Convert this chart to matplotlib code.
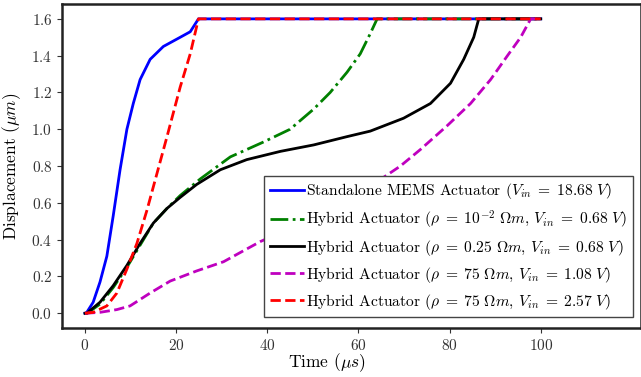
import numpy as np
import matplotlib
matplotlib.use('Agg')
import matplotlib.pyplot as plt

plt.rcParams['font.family'] = 'serif'
plt.rcParams['font.serif'] = ['cmr10', 'DejaVu Serif']
plt.rcParams['mathtext.fontset'] = 'cm'
plt.rcParams['axes.formatter.use_mathtext'] = True
plt.rcParams['axes.unicode_minus'] = False

# ------------------------------------------------------------------------
# data (time in us, displacement in um)
t_mems = [0, 0.4, 1.8, 3.3, 4.8, 6.2, 7.7, 9.2, 10.6, 12.1, 14.3, 17.2, 20.9, 23.1, 24.9, 100]
d_mems = [0, 0.005, 0.06, 0.17, 0.31, 0.53, 0.78, 1.0, 1.14, 1.27, 1.38, 1.45, 1.50, 1.53, 1.6, 1.6]

t_rho1 = [0, 0.5, 3.3, 6.2, 9.2, 12.1, 15, 18, 20.9, 25.3, 31.9, 39.1, 45, 50.2, 53.8,
          57.5, 60.4, 62.6, 64.1, 100]
d_rho1 = [0, 0.0, 0.05, 0.14, 0.25, 0.37, 0.49, 0.57, 0.64, 0.73, 0.85, 0.93, 1.0, 1.11, 1.2,
          1.31, 1.41, 1.52, 1.6, 1.6]

t_rho2 = [0, 0.4, 3.3, 6.2, 9.2, 12.1, 15, 18, 20.9, 24.5, 29.7, 35.5, 42.9, 50.2, 57.5,
          62.6, 69.9, 75.8, 80.2, 83.1, 85.3, 86.4, 100]
d_rho2 = [0, 0.0, 0.06, 0.15, 0.26, 0.38, 0.49, 0.57, 0.63, 0.70, 0.78, 0.835, 0.88, 0.915, 0.96,
          0.99, 1.06, 1.14, 1.25, 1.38, 1.5, 1.6, 1.6]

t_rho3 = [0, 3.3, 7, 9.9, 14.3, 18.7, 24.5, 30.4, 34.8, 38.5, 45, 50, 55, 60, 65,
          69.2, 73.6, 79.5, 84.6, 89, 92.7, 95.6, 97.8, 100]
d_rho3 = [0, 0.005, 0.02, 0.04, 0.11, 0.175, 0.23, 0.28, 0.34, 0.39, 0.46, 0.52, 0.59, 0.66, 0.73,
          0.80, 0.89, 1.02, 1.14, 1.27, 1.40, 1.50, 1.6, 1.6]

t_rho4 = [0, 1.8, 4.8, 7, 9.2, 11.4, 13.6, 15.8, 18, 20.9, 23.1, 24.9, 100]
d_rho4 = [0, 0.005, 0.04, 0.11, 0.24, 0.38, 0.56, 0.76, 0.96, 1.23, 1.41, 1.6, 1.6]

labels = [r'Standalone MEMS Actuator ($V_{in}\;=\;18.68\ V$)',
          r'Hybrid Actuator ($\rho\;=\;10^{-2}\ \Omega m$, $V_{in}\;=\;0.68\ V$)',
          r'Hybrid Actuator ($\rho\;=\;0.25\ \Omega m$, $V_{in}\;=\;0.68\ V$)',
          r'Hybrid Actuator ($\rho\;=\;75\ \Omega m$, $V_{in}\;=\;1.08\ V$)',
          r'Hybrid Actuator ($\rho\;=\;75\ \Omega m$, $V_{in}\;=\;2.57\ V$)']

# ------------------------------------------------------------------------
fig = plt.figure(figsize=(6.41, 3.77), dpi=100)
ax = fig.add_axes([0.097, 0.13, 0.903, 0.859])

ax.plot(t_mems, d_mems, '-', color='b', lw=2, label=labels[0])
ax.plot(t_rho1, d_rho1, '-.', color='g', lw=2, label=labels[1])
ax.plot(t_rho2, d_rho2, '-', color='k', lw=2, label=labels[2])
ax.plot(t_rho3, d_rho3, '--', color='m', lw=2, label=labels[3])
ax.plot(t_rho4, d_rho4, '--', color='r', lw=2, label=labels[4])

ax.set_xlim(-5, 122)
ax.set_ylim(-0.08, 1.68)
ax.set_xticks([0, 20, 40, 60, 80, 100])
ax.set_yticks(np.arange(0, 1.61, 0.2))
ax.tick_params(labelsize=11, colors='#333333')
for s in ax.spines.values():
    s.set_linewidth(1.8)
    s.set_color('#222222')

ax.set_xlabel(r'Time ($\mu s$)', fontsize=12.5)
ax.set_ylabel(r'Displacement ($\mu m$)', fontsize=12.5)
ax.xaxis.set_label_coords(0.458, -0.072)
ax.yaxis.set_label_coords(-0.067, 0.5)

leg = ax.legend(loc='lower right', bbox_to_anchor=(0.986, 0.034), borderaxespad=0,
                fontsize=11.2, fancybox=False, framealpha=1, edgecolor='#444444',
                handlelength=2.2, handletextpad=0.15, borderpad=0.35,
                labelspacing=0.45)

fig.savefig('out.png', dpi=100)
